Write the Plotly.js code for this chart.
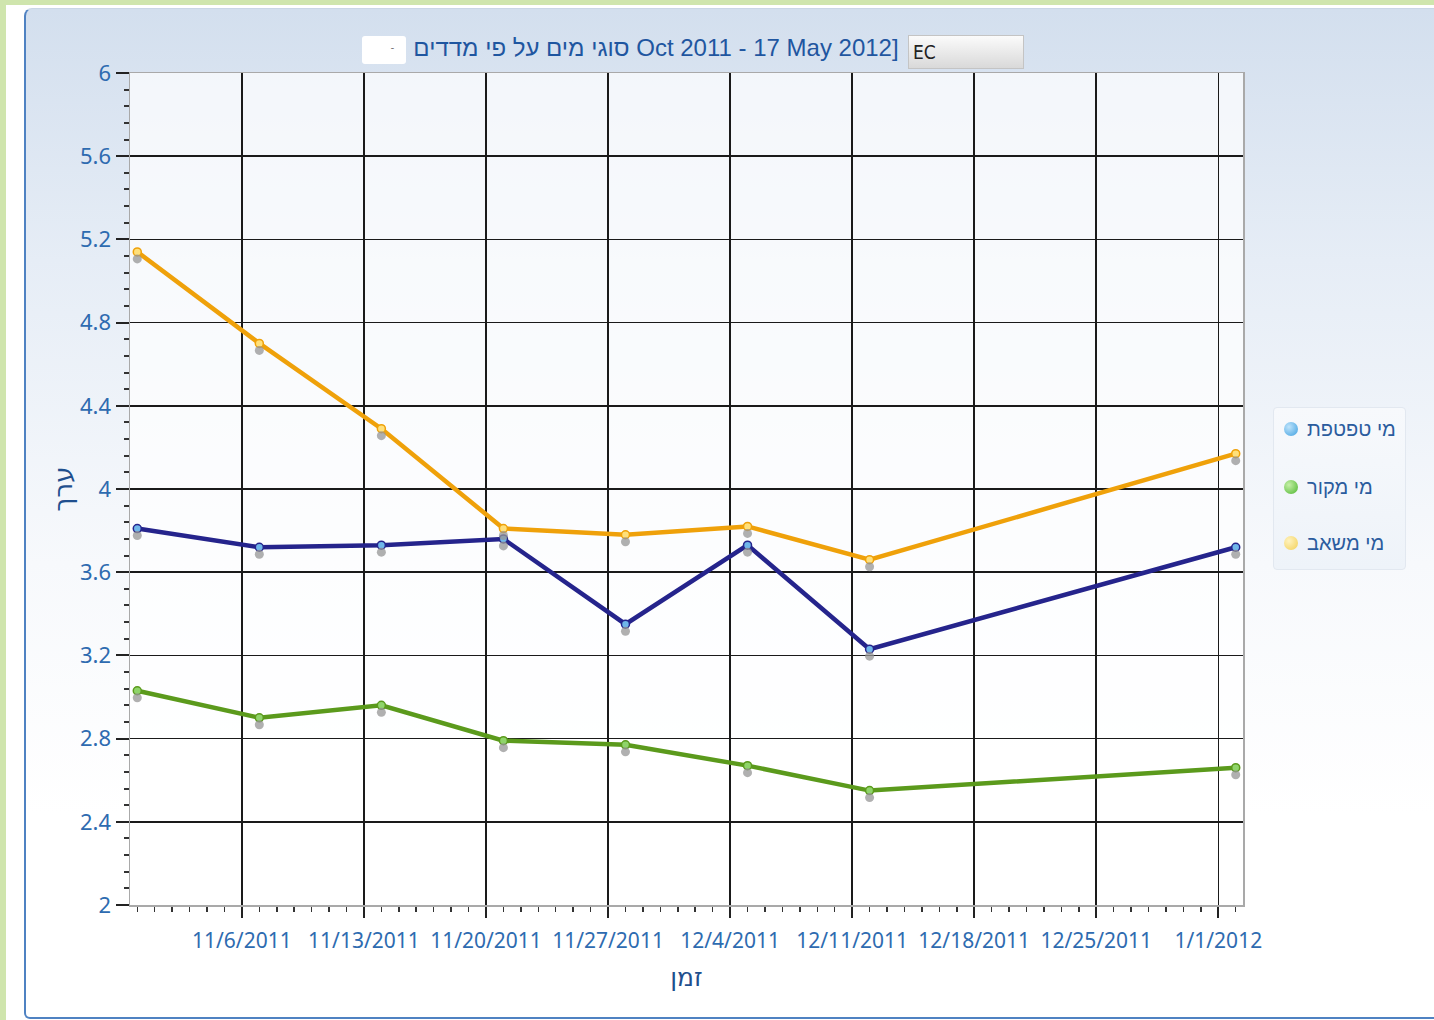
<!DOCTYPE html>
<html>
<head>
<meta charset="utf-8">
<script src="https://cdn.plot.ly/plotly-3.0.1.min.js"></script>
<style>
  html, body { margin:0; padding:0; width:1434px; height:1020px; overflow:hidden; background:#ffffff; }
  #frameTop { position:absolute; left:0; top:0; width:1434px; height:5px; background:#cfe5ad; }
  #frameLeft { position:absolute; left:0; top:0; width:6px; height:1020px; background:#cfe5ad; }
  #panel { position:absolute; left:24px; top:8px; width:1420px; height:1008px;
           border-left:2px solid #4f82c2; border-top:1px solid #c9d6e6; border-bottom:2px solid #4f82c2;
           border-top-left-radius:8px; border-bottom-left-radius:6px;
           background:linear-gradient(to bottom, #d3dfee 0%, #e6edf6 25%, #f7f9fc 55%, #ffffff 80%); }
  #chart { position:absolute; left:0; top:0; width:1434px; height:1020px; }
  #ecbtn { position:absolute; left:908px; top:35px; width:116px; height:34px; box-sizing:border-box;
           border:1px solid #c4c4c4; background:linear-gradient(to bottom,#fbfbfb,#d9d9d9);
           font-family:'DejaVu Sans Condensed','DejaVu Sans',sans-serif; font-size:19px; color:#222; padding:5px 0 0 4px; }
  #blank { position:absolute; left:362px; top:36px; width:44px; height:28px; background:#ffffff; border-radius:3px;
           color:#666; font-size:10px; text-align:right; box-sizing:border-box; padding-top:6px; padding-right:12px; }
  #legend { position:absolute; left:1273px; top:407px; width:133px; height:163px; box-sizing:border-box;
            border:1px solid #e2e8f0; border-radius:4px; background:linear-gradient(to bottom,#f7f9fc,#eef3f9); }
  .li { position:absolute; left:10px; height:24px; font-family:'Liberation Sans','DejaVu Sans',sans-serif; font-size:20px; color:#2b5c9e; white-space:nowrap; }
  .dot { display:inline-block; width:14px; height:14px; border-radius:50%; vertical-align:middle; margin-right:9px; position:relative; top:-2px; }
</style>
</head>
<body>
<div id="frameTop"></div>
<div id="frameLeft"></div>
<div id="panel"></div>
<div id="chart"></div>
<div id="blank">-</div>
<div id="ecbtn">EC</div>
<div id="legend"></div>
<script>
// ---- data ----
const dates = ['2011-10-31','2011-11-07','2011-11-14','2011-11-21','2011-11-28','2011-12-05','2011-12-12','2012-01-02'];
const seriesNames = ['מי טפטפת', 'מי מקור', 'מי משאב'];
const drip   = [3.81, 3.72, 3.73, 3.76, 3.35, 3.73, 3.23, 3.72];   // מי טפטפת
const source = [3.03, 2.90, 2.96, 2.79, 2.77, 2.67, 2.55, 2.66];   // מי מקור
const well   = [5.14, 4.70, 4.29, 3.81, 3.78, 3.82, 3.66, 4.17];   // מי משאב
const titleText = 'סוגי מים על פי מדדים Oct 2011 - 17 May 2012]';
const xTitle = 'זמן';
const yTitle = 'ערך';

// ---- styles ----
const lineColors = ['#25248c', '#5b9a1c', '#efa10a'];
const markerFill = ['#6fb6ea', '#8fd46a', '#ffe07a'];
const legendDot  = ['radial-gradient(circle at 35% 35%, #bfe4fb, #3d9fe0)',
                    'radial-gradient(circle at 35% 35%, #c6f0a8, #4cb52e)',
                    'radial-gradient(circle at 35% 35%, #fff3c0, #f2cf55)'];
const allSeries = [drip, source, well];

const traces = [];
// shadows (same data drawn on a slightly shifted overlay axis)
allSeries.forEach((ys) => {
  traces.push({x: dates, y: ys, yaxis: 'y2', mode: 'markers', type: 'scatter', showlegend: false, hoverinfo: 'skip',
    marker: {size: 9, color: 'rgba(150,150,150,0.75)'}});
});
allSeries.forEach((ys, i) => {
  traces.push({x: dates, y: ys, name: seriesNames[i], mode: 'lines+markers', type: 'scatter', showlegend: false,
    line: {color: lineColors[i], width: 4.5},
    marker: {size: 8, color: markerFill[i], line: {color: lineColors[i], width: 1.5}}});
});

const fam = "'Noto Sans', 'Liberation Sans', 'DejaVu Sans', sans-serif";
const tickFont = {family: fam, size: 21, color: '#2e6bb0'};
const shift = 7 / 208; // pixel offset of shadows expressed in axis units

const layout = {
  width: 1434, height: 1020,
  paper_bgcolor: 'rgba(0,0,0,0)',
  plot_bgcolor: 'rgba(255,255,255,0.7)',
  margin: {l: 130, r: 191, t: 73, b: 115},
  showlegend: false,
  title: {text: titleText, x: 656/1434, xref: 'container', xanchor: 'center', y: 1 - 48/1020, yref: 'container', yanchor: 'middle',
          font: {family: "'Liberation Sans', 'DejaVu Sans', sans-serif", size: 24, color: '#1f56a0'}},
  xaxis: {
    type: 'date', range: ['2011-10-30 14:00', '2012-01-02 10:00'],
    tick0: '2011-11-06', dtick: 7 * 86400000, tickformat: '%-m/%-d/%Y',
    ticks: 'outside', ticklen: 11, tickwidth: 2, tickcolor: '#222',
    ticklabelstandoff: 5,
    showgrid: true, gridcolor: '#1a1a1a', gridwidth: 1.6,
    showline: true, linecolor: '#a9a9a9', linewidth: 1.5, mirror: true,
    zeroline: false, tickfont: tickFont,
    minor: {dtick: 86400000, ticks: 'outside', ticklen: 5, tickwidth: 1.5, tickcolor: '#333', showgrid: false},
    title: {text: xTitle, standoff: 16, font: {family: "'DejaVu Sans', sans-serif", size: 25, color: '#1f4f8e'}}
  },
  yaxis: {
    range: [2, 6], dtick: 0.4, tick0: 2,
    ticks: 'outside', ticklen: 13, tickwidth: 2, tickcolor: '#222',
    showgrid: true, gridcolor: '#1a1a1a', gridwidth: 1.6,
    showline: true, linecolor: '#a9a9a9', linewidth: 1.5, mirror: true,
    zeroline: false, tickfont: {family: fam, size: 22, color: '#2e6bb0'},
    minor: {dtick: 0.08, ticks: 'outside', ticklen: 5, tickwidth: 2, tickcolor: '#333', showgrid: false},
    title: {text: yTitle, standoff: 0, font: {family: "'DejaVu Sans', sans-serif", size: 26, color: '#1f4f8e'}}
  },
  yaxis2: {overlaying: 'y', range: [2 + shift, 6 + shift], visible: false, showgrid: false, zeroline: false}
};

Plotly.newPlot('chart', traces, layout, {displayModeBar: false, staticPlot: true});

// legend overlay
const leg = document.getElementById('legend');
const tops = [10, 68, 124];
seriesNames.forEach((n, i) => {
  const d = document.createElement('div');
  d.className = 'li';
  d.style.top = tops[i] + 'px';
  d.innerHTML = '<span class="dot" style="background:' + legendDot[i] + '"></span><span dir="rtl">' + n + '</span>';
  leg.appendChild(d);
});
</script>
</body>
</html>
